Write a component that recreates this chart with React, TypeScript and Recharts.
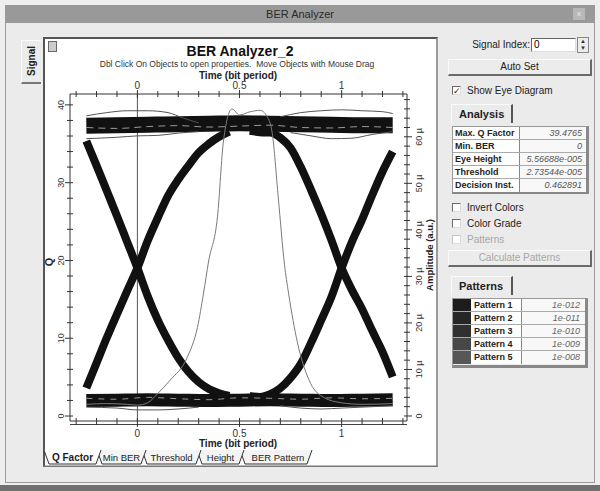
import { ComposedChart, Line, XAxis, YAxis, ReferenceLine } from "recharts";

const FONT = "'Liberation Sans', Arial, sans-serif";

// axis ticks
const X_TICKS = [-0.3, -0.2, -0.1, 0, 0.1, 0.2, 0.3, 0.4, 0.5, 0.6, 0.7, 0.8, 0.9, 1, 1.1, 1.2, 1.3];
const Q_TICKS = [0, 2, 4, 6, 8, 10, 12, 14, 16, 18, 20, 22, 24, 26, 28, 30, 32, 34, 36, 38, 40];
const AMP_TICKS = [0, 2, 4, 6, 8, 10, 12, 14, 16, 18, 20, 22, 24, 26, 28, 30, 32, 34, 36, 38, 40, 42, 44, 46, 48, 50, 52, 54, 56, 58, 60, 62, 64, 66, 68];

// eye diagram, amplitude in micro a.u.
const bandTime = [-0.25, -0.1, 0.05, 0.2, 0.35, 0.5, 0.65, 0.8, 0.95, 1.1, 1.25];
const highRail = [62.4, 62.5, 62.6, 62.7, 62.8, 62.9, 62.8, 62.7, 62.6, 62.5, 62.5];
const lowRail = [3.3, 3.4, 3.5, 3.4, 3.3, 3.4, 3.5, 3.4, 3.3, 3.4, 3.5];
const highRailGrain = [62.0, 61.8, 62.2, 62.4, 62.1, 62.3, 62.5, 62.0, 61.9, 62.2, 62.0];
const lowRailGrain = [3.8, 3.6, 4.0, 3.7, 3.5, 3.9, 3.8, 3.6, 3.9, 3.7, 3.8];

const edgeTime1 = [-0.25, -0.2, -0.15, -0.1, -0.05, 0, 0.05, 0.1, 0.15, 0.2, 0.25, 0.3, 0.35, 0.4, 0.45];
const fall1 = [59.1, 53.8, 48.4, 43.0, 37.4, 31.8, 25.8, 20.6, 16.3, 12.5, 9.5, 7.3, 5.8, 4.9, 4.3];
const rise1 = [6.0, 11.4, 16.8, 21.9, 26.9, 31.8, 37.6, 42.6, 47.3, 50.8, 53.8, 56.6, 58.5, 60.0, 61.1];

const edgeTime2 = [0.55, 0.6, 0.65, 0.7, 0.75, 0.8, 0.85, 0.9, 0.95, 1, 1.05, 1.1, 1.15, 1.2, 1.25];
const fall2 = [61.3, 61.0, 60.9, 59.8, 57.6, 53.5, 48.6, 43.4, 37.8, 31.8, 27.1, 23.0, 18.3, 13.8, 8.4];
const rise2 = [4.3, 4.1, 4.7, 6.0, 8.2, 11.2, 15.7, 20.6, 25.6, 31.8, 37.4, 42.2, 47.5, 52.5, 56.8];

// stray traces around the rails
const overTimeL = [-0.25, -0.15, -0.05, 0.05, 0.15, 0.22, 0.3];
const overL = [64.5, 65.2, 65.6, 65.6, 65.2, 64.1, 63.0];
const overTimeR = [0.7, 0.8, 0.9, 1.0, 1.1, 1.2, 1.25];
const overR = [64.3, 65.2, 65.6, 65.8, 65.6, 65.4, 65.0];
const underTimeL = [-0.25, -0.1, 0, 0.1, 0.2, 0.3];
const underL = [59.6, 59.9, 60.2, 60.3, 60.8, 61.1];
const underTimeR = [0.75, 0.85, 0.95, 1.05, 1.15, 1.25];
const underR = [60.9, 60.2, 59.6, 59.7, 60.5, 61.1];
const lowUnderTimeL = [-0.25, -0.1, 0, 0.1, 0.2, 0.3];
const lowUnderL = [1.9, 1.7, 1.3, 1.3, 1.5, 1.9];
const lowUnderTimeR = [0.7, 0.8, 0.9, 1.0, 1.1, 1.25];
const lowUnderR = [2.2, 1.7, 1.5, 1.7, 1.9, 2.2];

// Q factor vs time
const qTime = [-0.25, -0.15, -0.05, 0, 0.05, 0.1, 0.16, 0.245, 0.294, 0.324, 0.348, 0.392, 0.422, 0.463, 0.5, 0.55, 0.6, 0.635, 0.66, 0.69, 0.72, 0.74, 0.784, 0.848, 0.912, 1.0, 1.1, 1.25];
const qValue = [1.5, 1.6, 1.5, 1.4, 1.7, 2.9, 4.6, 7.6, 11.4, 15.8, 19.8, 25.6, 35.5, 39.48, 38.7, 39.1, 39.3, 38.5, 36.4, 28.0, 19.5, 15.8, 9.4, 4.2, 2.4, 1.7, 1.5, 1.6];

const ANALYSIS_LABELS = ["Max. Q Factor", "Min. BER", "Eye Height", "Threshold", "Decision Inst."];
const ANALYSIS_VALUES = ["39.4765", "0", "5.56688e-005", "2.73544e-005", "0.462891"];
const PATTERN_NAMES = ["Pattern 1", "Pattern 2", "Pattern 3", "Pattern 4", "Pattern 5"];
const PATTERN_BER = ["1e-012", "1e-011", "1e-010", "1e-009", "1e-008"];
const PATTERN_SWATCH = ["#1c1c1c", "#262626", "#303030", "#474747", "#575757"];

const TABS = ["Q Factor", "Min BER", "Threshold", "Height", "BER Pattern"];
const TAB_X = [44, 97, 142, 197, 240, 312];

const zip = (ts: number[], vs: number[]) => ts.map((t, i) => ({ t, v: vs[i] }));

const isHalf = (v: number) => Math.abs(v * 2 - Math.round(v * 2)) < 1e-6;
const fmtX = (v: number) => String(Math.round(v * 10) / 10);

function TopTick(props: any) {
  const { x, y, payload } = props;
  const major = isHalf(payload.value);
  return (
    <g>
      <line x1={x} x2={x} y1={y - (major ? 4 : 3)} y2={y + (major ? 4 : 3)} stroke="#333" />
      {major && (
        <text x={x} y={y - 5} textAnchor="middle" fontSize={10} fill="#333" fontFamily={FONT}>
          {fmtX(payload.value)}
        </text>
      )}
    </g>
  );
}

function BottomTick(props: any) {
  const { x, y, payload } = props;
  const major = isHalf(payload.value);
  return (
    <g>
      <line x1={x} x2={x} y1={y - 3} y2={y + (major ? 6 : 4)} stroke="#333" />
      {major && (
        <text x={x} y={y + 16} textAnchor="middle" fontSize={10} fill="#333" fontFamily={FONT}>
          {fmtX(payload.value)}
        </text>
      )}
    </g>
  );
}

function LeftTick(props: any) {
  const { x, y, payload } = props;
  const major = payload.value % 10 === 0;
  const bx = x - 6;
  return (
    <g>
      <line x1={x - (major ? 5 : 3)} x2={x + 3} y1={y} y2={y} stroke="#333" />
      {major && (
        <text x={bx} y={y} transform={`rotate(-90 ${bx} ${y})`} textAnchor="middle" fontSize={9} fill="#333" fontFamily={FONT}>
          {payload.value}
        </text>
      )}
    </g>
  );
}

function RightTick(props: any) {
  const { x, y, payload } = props;
  const major = payload.value % 10 === 0;
  const bx = x + 15;
  return (
    <g>
      <line x1={x - 3} x2={x + (major ? 5 : 3)} y1={y} y2={y} stroke="#333" />
      {major && (
        <text x={bx} y={y} transform={`rotate(-90 ${bx} ${y})`} textAnchor="middle" fontSize={9} fill="#333" fontFamily={FONT}>
          {payload.value === 0 ? "0" : `${payload.value} µ`}
        </text>
      )}
    </g>
  );
}

function Check({ x, y, label, checked, disabled }: any) {
  return (
    <div style={{ position: "absolute", left: x, top: y, display: "flex", alignItems: "center", fontSize: 10, color: disabled ? "#a8a8a8" : "#222", whiteSpace: "nowrap" }}>
      <div
        style={{
          width: 9, height: 9, marginRight: 6, background: "#fff", boxSizing: "border-box",
          borderTop: `1px solid ${disabled ? "#c4c4c4" : "#6a6a6a"}`, borderLeft: `1px solid ${disabled ? "#c4c4c4" : "#6a6a6a"}`,
          borderRight: "1px solid #ddd", borderBottom: "1px solid #ddd",
          fontSize: 9, lineHeight: "8px", textAlign: "center", color: "#222",
        }}
      >
        {checked ? "✓" : ""}
      </div>
      {label}
    </div>
  );
}

function Button({ x, y, w, h, label, disabled }: any) {
  return (
    <div
      style={{
        position: "absolute", left: x, top: y, width: w, height: h, boxSizing: "border-box",
        borderTop: "1px solid #fafafa", borderLeft: "1px solid #fafafa", borderRight: "2px solid #6a6a6a", borderBottom: "2px solid #6a6a6a",
        background: "#ececec", fontSize: 10, color: disabled ? "#a8a8a8" : "#222",
        textAlign: "center", lineHeight: `${h - 3}px`,
      }}
    >
      {label}
    </div>
  );
}

function TabHead({ x, y, label }: any) {
  return (
    <div
      style={{
        position: "absolute", left: x, top: y, width: 62, height: 19, boxSizing: "border-box",
        borderTop: "1px solid #fafafa", borderLeft: "1px solid #fafafa", borderRight: "2px solid #555",
        fontSize: 11, fontWeight: "bold", color: "#222", paddingLeft: 7, lineHeight: "19px",
      }}
    >
      {label}
    </div>
  );
}

const rot = (x: number, y: number): any => ({
  position: "absolute", left: x, top: y, transform: "translate(-50%, -50%) rotate(-90deg)", whiteSpace: "nowrap",
});

export default function App() {
  const eye = (data: any[], w: number, color = "#111", dash?: string) => (
    <Line
      data={data}
      xAxisId="bottom"
      yAxisId="amp"
      dataKey="v"
      type="monotone"
      stroke={color}
      strokeWidth={w}
      strokeDasharray={dash}
      dot={false}
      activeDot={false}
      isAnimationActive={false}
    />
  );

  return (
    <div style={{ position: "absolute", left: 0, top: 0, width: 600, height: 491, background: "#eeeeee", overflow: "hidden", fontFamily: FONT }}>
      {/* window */}
      <div style={{ position: "absolute", left: 5, top: 5, width: 590, height: 478, background: "#ebebeb", border: "1px solid #9a9a9a", boxSizing: "border-box" }} />
      <div style={{ position: "absolute", left: 5, top: 5, width: 590, height: 18, background: "#999999", color: "#2a2a2a", fontSize: 11, textAlign: "center", lineHeight: "18px" }}>
        BER Analyzer
      </div>
      <div style={{ position: "absolute", left: 573, top: 8, width: 12, height: 12, background: "#b8b8b8", color: "#eee", fontSize: 8, textAlign: "center", lineHeight: "12px" }}>x</div>
      <div style={{ position: "absolute", left: 0, top: 485, width: 600, height: 6, background: "#707070" }} />

      {/* Signal side tab */}
      <div style={{ position: "absolute", left: 21, top: 40, width: 20, height: 44, boxSizing: "border-box", borderTop: "1px solid #fafafa", borderLeft: "1px solid #fafafa", borderBottom: "2px solid #777", background: "#ebebeb" }} />
      <div style={{ ...rot(31, 61), fontSize: 10, fontWeight: "bold", color: "#222" }}>Signal</div>

      {/* plot panel */}
      <div style={{ position: "absolute", left: 43, top: 37, width: 395, height: 430, background: "#fff", boxSizing: "border-box", borderLeft: "2px solid #555", borderTop: "2px solid #555", borderRight: "2px solid #9a9a9a", borderBottom: "1px solid #777" }} />
      <div style={{ position: "absolute", left: 48, top: 41, width: 7, height: 9, border: "1px solid #666", background: "#ccc" }} />
      <div style={{ position: "absolute", left: 240, top: 51, transform: "translate(-50%, -50%)", fontSize: 14, fontWeight: "bold", color: "#111", whiteSpace: "nowrap" }}>BER Analyzer_2</div>
      <div style={{ position: "absolute", left: 237, top: 64, transform: "translate(-50%, -50%)", fontSize: 8.5, color: "#333", whiteSpace: "pre" }}>
        Dbl Click On Objects to open properties.  Move Objects with Mouse Drag
      </div>
      <div style={{ position: "absolute", left: 238, top: 75, transform: "translate(-50%, -50%)", fontSize: 10, fontWeight: "bold", color: "#222", whiteSpace: "nowrap" }}>Time (bit period)</div>
      <div style={{ position: "absolute", left: 238, top: 443, transform: "translate(-50%, -50%)", fontSize: 10, fontWeight: "bold", color: "#222", whiteSpace: "nowrap" }}>Time (bit period)</div>
      <div style={{ ...rot(49, 262), fontSize: 11, fontWeight: "bold", color: "#222" }}>Q</div>
      <div style={{ ...rot(429, 255), fontSize: 9.5, fontWeight: "bold", color: "#222" }}>Amplitude (a.u.)</div>
      <div style={{ position: "absolute", left: 70, top: 424, width: 337, height: 1, background: "#444" }} />

      <div style={{ position: "absolute", left: 0, top: 0 }}>
        <ComposedChart width={600} height={491} margin={{ top: 64, right: 163, bottom: 40, left: 40 }}>
          <XAxis xAxisId="bottom" type="number" dataKey="t" orientation="bottom" height={30} domain={[-0.33, 1.32]} allowDataOverflow ticks={X_TICKS} interval={0} tickSize={0} tickMargin={0} tickLine={false} tick={<BottomTick />} axisLine={{ stroke: "#333" }} />
          <XAxis xAxisId="top" type="number" dataKey="t" orientation="top" height={30} domain={[-0.33, 1.32]} allowDataOverflow ticks={X_TICKS} interval={0} tickSize={0} tickMargin={0} tickLine={false} tick={<TopTick />} axisLine={{ stroke: "#333" }} />
          <YAxis yAxisId="q" orientation="left" width={30} domain={[-0.64, 41.4]} allowDataOverflow ticks={Q_TICKS} interval={0} tickSize={0} tickMargin={0} tickLine={false} tick={<LeftTick />} axisLine={{ stroke: "#333" }} />
          <YAxis yAxisId="amp" orientation="right" width={30} domain={[-1.08, 69.2]} allowDataOverflow ticks={AMP_TICKS} interval={0} tickSize={0} tickMargin={0} tickLine={false} tick={<RightTick />} axisLine={{ stroke: "#333" }} />
          <ReferenceLine xAxisId="bottom" yAxisId="q" x={0} stroke="#555" strokeWidth={1} />

          {eye(zip(bandTime, highRail), 16)}
          {eye(zip(bandTime, lowRail), 13)}
          {eye(zip(edgeTime1, fall1), 8)}
          {eye(zip(edgeTime1, rise1), 8)}
          {eye(zip(edgeTime2, fall2), 8)}
          {eye(zip(edgeTime2, rise2), 8)}
          {eye(zip(bandTime, highRailGrain), 1, "#9a9a9a", "7 5")}
          {eye(zip(bandTime, lowRailGrain), 1, "#9a9a9a", "6 6")}
          {eye(zip(overTimeL, overL), 1, "#555")}
          {eye(zip(overTimeR, overR), 1, "#555")}
          {eye(zip(underTimeL, underL), 1, "#555")}
          {eye(zip(underTimeR, underR), 1, "#555")}
          {eye(zip(lowUnderTimeL, lowUnderL), 1, "#555")}
          {eye(zip(lowUnderTimeR, lowUnderR), 1, "#555")}

          <Line data={zip(qTime, qValue)} xAxisId="bottom" yAxisId="q" dataKey="v" type="monotone" stroke="#7a7a7a" strokeWidth={1} dot={false} activeDot={false} isAnimationActive={false} />
        </ComposedChart>
      </div>

      {/* bottom tabs */}
      <svg style={{ position: "absolute", left: 0, top: 0 }} width={600} height={491}>
        {TABS.map((_, i) => {
          const j = TABS.length - 1 - i;
          const x0 = TAB_X[j];
          const x1 = TAB_X[j + 1] + (j < TABS.length - 1 ? 4 : 0);
          return (
            <path key={j} d={`M${x0} 450 L${x0 + 5} 464 L${x1 - 5} 464 L${x1} 450`} fill={j === 0 ? "#fff" : "#f4f4f4"} stroke="#333" strokeWidth={1} />
          );
        })}
        <line x1={43} x2={438} y1={466} y2={466} stroke="#777" />
        {TABS.map((name, i) => (
          <text key={name} x={(TAB_X[i] + TAB_X[i + 1]) / 2 + 2} y={461} textAnchor="middle" fontSize={i === 0 ? 10 : 9.5} fontWeight={i === 0 ? "bold" : "normal"} fill="#222" fontFamily={FONT}>
            {name}
          </text>
        ))}
      </svg>

      {/* right panel */}
      <div style={{ position: "absolute", left: 470, top: 39, width: 60, textAlign: "right", fontSize: 10, color: "#222" }}>Signal Index:</div>
      <div style={{ position: "absolute", left: 531, top: 38, width: 45, height: 14, boxSizing: "border-box", background: "#fff", borderTop: "1px solid #666", borderLeft: "1px solid #666", borderRight: "1px solid #ddd", borderBottom: "1px solid #ddd", fontSize: 10, paddingLeft: 2, lineHeight: "12px" }}>0</div>
      <div style={{ position: "absolute", left: 577, top: 37, width: 12, height: 16, boxSizing: "border-box", border: "1px solid #888", background: "#ececec", fontSize: 6, textAlign: "center", lineHeight: "7px", color: "#333" }}>
        ▲<br />▼
      </div>
      <Button x={448} y={59} w={144} h={17} label="Auto Set" />
      <Check x={452} y={85} label="Show Eye Diagram" checked />

      <TabHead x={451} y={104} label="Analysis" />
      <div style={{ position: "absolute", left: 452, top: 126, width: 137, height: 68, boxSizing: "border-box", borderRight: "3px solid #888", borderBottom: "3px solid #888", borderTop: "1px solid #999", borderLeft: "1px solid #999" }}>
        {ANALYSIS_LABELS.map((lab, i) => (
          <div key={lab} style={{ display: "flex", height: 13, borderBottom: i < 4 ? "1px solid #aaa" : "none", boxSizing: "border-box", fontSize: 9, lineHeight: "12px" }}>
            <div style={{ width: 64, fontWeight: "bold", color: "#222", paddingLeft: 2, borderRight: "1px solid #888", background: "#fff" }}>{lab}</div>
            <div style={{ flex: 1, textAlign: "right", paddingRight: 4, fontStyle: "italic", color: "#555", background: "#f8f8f8" }}>{ANALYSIS_VALUES[i]}</div>
          </div>
        ))}
      </div>

      <Check x={452} y={202} label="Invert Colors" />
      <Check x={452} y={218} label="Color Grade" />
      <Check x={452} y={234} label="Patterns" disabled />
      <Button x={448} y={250} w={144} h={17} label="Calculate Patterns" disabled />

      <TabHead x={451} y={276} label="Patterns" />
      <div style={{ position: "absolute", left: 452, top: 298, width: 136, height: 70, boxSizing: "border-box", borderRight: "3px solid #888", borderBottom: "3px solid #888", borderTop: "1px solid #999", borderLeft: "1px solid #999" }}>
        {PATTERN_NAMES.map((name, i) => (
          <div key={name} style={{ display: "flex", height: 13, borderBottom: i < 4 ? "1px solid #aaa" : "none", boxSizing: "border-box", fontSize: 9, lineHeight: "12px" }}>
            <div style={{ width: 18, background: PATTERN_SWATCH[i] }} />
            <div style={{ width: 47, fontWeight: "bold", color: "#222", paddingLeft: 3, borderRight: "1px solid #888", background: "#fff" }}>{name}</div>
            <div style={{ flex: 1, textAlign: "right", paddingRight: 5, fontStyle: "italic", color: "#666", background: "#f8f8f8" }}>{PATTERN_BER[i]}</div>
          </div>
        ))}
      </div>
    </div>
  );
}
